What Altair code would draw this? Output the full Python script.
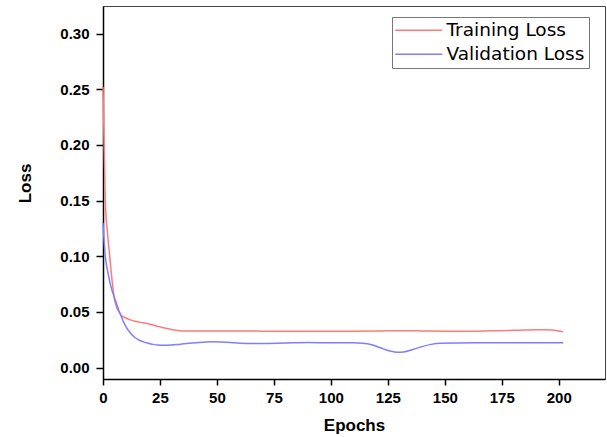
import altair as alt
import pandas as pd

train_epochs = [0, 1, 2, 3, 4, 5, 6, 7, 8, 9, 10, 12, 14, 16, 18, 20, 22, 24, 26, 28, 30, 32, 35,
                40, 50, 60, 70, 80, 90, 100, 110, 120, 125, 130, 135, 140, 150, 160, 170, 180,
                185, 190, 195, 200, 202]
train_loss = [0.252, 0.150, 0.120, 0.099, 0.078, 0.062, 0.054, 0.050, 0.047, 0.0455, 0.0445,
              0.0428, 0.0415, 0.0408, 0.0400, 0.0392, 0.0382, 0.0370, 0.0360, 0.0350, 0.0341,
              0.0334, 0.0329, 0.0328, 0.0328, 0.0328, 0.0327, 0.0327, 0.0326, 0.0327, 0.0327,
              0.0328, 0.0330, 0.0331, 0.0330, 0.0329, 0.0327, 0.0327, 0.0330, 0.0334, 0.0337,
              0.0340, 0.0339, 0.0329, 0.0322]

val_epochs = [0, 1, 2, 3, 4, 5, 6, 7, 8, 9, 10, 12, 14, 16, 18, 20, 22, 24, 27, 30, 34, 38, 42,
              47, 52, 56, 60, 70, 80, 90, 100, 110, 114, 118, 122, 126, 129, 132, 136, 140, 144,
              148, 155, 170, 185, 202]
val_loss = [0.130, 0.100, 0.087, 0.077, 0.069, 0.063, 0.057, 0.051, 0.046, 0.041, 0.037, 0.031,
            0.027, 0.0245, 0.0228, 0.0218, 0.0208, 0.0202, 0.0200, 0.0202, 0.0210, 0.0218,
            0.0224, 0.0231, 0.0229, 0.0225, 0.0218, 0.0216, 0.0220, 0.0224, 0.0223, 0.0222,
            0.0219, 0.0205, 0.0175, 0.0148, 0.0137, 0.0140, 0.0162, 0.0188, 0.0208, 0.0218,
            0.0221, 0.0222, 0.0222, 0.0222]

series_names = ["Training Loss", "Validation Loss"]
series_colors = ["#ff7a7a", "#7f7fff"]
x_ticks = [0, 25, 50, 75, 100, 125, 150, 175, 200]
y_ticks = [0.00, 0.05, 0.10, 0.15, 0.20, 0.25, 0.30]

df = pd.concat([
    pd.DataFrame({"Epoch": train_epochs, "Loss": train_loss, "Series": series_names[0]}),
    pd.DataFrame({"Epoch": val_epochs, "Loss": val_loss, "Series": series_names[1]}),
])

FONT = "Liberation Sans"

chart = alt.Chart(df).mark_line(strokeWidth=1.5, interpolate="monotone").encode(
    x=alt.X("Epoch:Q",
            scale=alt.Scale(domain=[0, 220.3], nice=False, zero=False),
            axis=alt.Axis(values=x_ticks, title="Epochs", grid=False, format="d",
                          labelFlush=False,
                          domainColor="#000", domainWidth=1.5, tickColor="#000", tickWidth=1.5,
                          tickSize=6, labelPadding=5, labelFont=FONT, labelFontSize=15,
                          labelFontWeight="bold", labelColor="#000",
                          titleFont=FONT, titleFontSize=17, titleFontWeight="bold",
                          titleColor="#000", titleBaseline="alphabetic", titleY=51)),
    y=alt.Y("Loss:Q",
            scale=alt.Scale(domain=[-0.0103, 0.3248], nice=False, zero=False),
            axis=alt.Axis(values=y_ticks, title="Loss", grid=False, format=".2f",
                          labelFlush=False,
                          domainColor="#000", domainWidth=1.5, tickColor="#000", tickWidth=1.5,
                          tickSize=7, labelPadding=7, labelFont=FONT, labelFontSize=15,
                          labelFontWeight="bold", labelColor="#000",
                          titleFont=FONT, titleFontSize=17, titleFontWeight="bold",
                          titleColor="#000", titleX=-69, titleY=177)),
    color=alt.Color("Series:N",
                    scale=alt.Scale(domain=series_names, range=series_colors),
                    legend=alt.Legend(title=None, orient="none", legendX=289, legendY=11,
                                      symbolType="M-2,0H7.4", symbolSize=100,
                                      symbolStrokeWidth=1.5, symbolFillColor="transparent",
                                      labelFont="DejaVu Sans",
                                      labelFontSize=18.5, labelColor="#000", labelOffset=32,
                                      strokeColor="#777", padding=4, rowPadding=5)),
).properties(
    width=502, height=373,
    padding={"left": 103, "top": 6, "right": 2, "bottom": 58},
    autosize="none",
).configure_view(stroke="#444", strokeWidth=1)

chart.save("out.html", embed_options={"renderer": "svg", "actions": False})
